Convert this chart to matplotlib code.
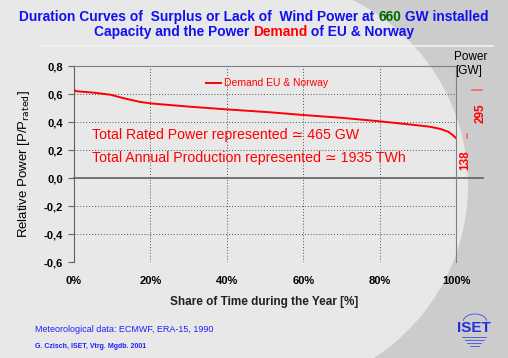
import numpy as np
import matplotlib
matplotlib.use("Agg")
import matplotlib.pyplot as plt
from matplotlib.patches import Polygon

plt.rcParams["font.family"] = ["Liberation Sans", "DejaVu Sans"]

# ---- data ----
share_pct = [0, 0.5, 5, 9.5, 13, 17, 20, 30, 40, 51, 60, 70, 80, 87, 93, 96, 98, 99, 100]
demand_rel = [0.63, 0.62, 0.61, 0.595, 0.57, 0.545, 0.533, 0.51, 0.49, 0.47,
              0.45, 0.43, 0.405, 0.385, 0.367, 0.35, 0.33, 0.31, 0.285]
y_ticks = [-0.6, -0.4, -0.2, 0.0, 0.2, 0.4, 0.6, 0.8]
x_ticks = [0, 20, 40, 60, 80, 100]
power_marks = [0.63, 0.285]
power_labels = ["295", "138"]

W, H = 508, 358
fig = plt.figure(figsize=(W / 100, H / 100), dpi=100)
fig.patch.set_facecolor("#e8e8e8")

# slide background: darker area right of a big arc
cx, cy, r = 262, 185, 206
t = np.linspace(-np.pi / 2 - 0.3, np.pi / 2 + 0.3, 120)
arc_x = cx + r * np.cos(t)
arc_y = cy + r * np.sin(t)
pts = [(x / W, 1 - y / H) for x, y in zip(arc_x, arc_y)]
pts += [(1.2, 1 - arc_y[-1] / H), (1.2, 1 - arc_y[0] / H)]
bg = Polygon(pts, closed=True, transform=fig.transFigure,
             facecolor="#cccccc", edgecolor="none", zorder=-5)
fig.add_artist(bg)
fig.add_artist(plt.Line2D([40 / W, 493 / W], [1 - 46 / H, 1 - 46 / H],
                          transform=fig.transFigure, color="#f2f2f2", lw=1.2, zorder=-4))

# ---- title with coloured words ----
def colored_line(parts, y, size=9.9):
    renderer = fig.canvas.get_renderer()
    texts = []
    for s, c in parts:
        tx = fig.text(0, y, s, color=c, fontsize=size, fontweight="bold",
                      ha="left", va="center")
        texts.append(tx)
    widths = [tx.get_window_extent(renderer).width / W for tx in texts]
    x = 0.5 - sum(widths) / 2
    for tx, w in zip(texts, widths):
        tx.set_x(x)
        x += w

blue = "#1010f0"
colored_line([("Duration Curves of  Surplus or Lack of  Wind Power at ", blue),
              ("660", "#006400"), (" GW installed", blue)], 1 - 17 / H)
colored_line([("Capacity and the Power ", blue), ("Demand", "#ff0000"),
              (" of EU & Norway", blue)], 1 - 32 / H)

# ---- axes ----
ax = fig.add_axes([74 / W, 1 - 262 / H, 382 / W, 196 / H])
ax.patch.set_visible(False)
ax.set_xlim(0, 100)
ax.set_ylim(-0.6, 0.8)

ax.plot(share_pct, demand_rel, color="#ff0000", lw=1.4, zorder=3)

for yv in y_ticks:
    if yv == 0.0:
        ax.plot([0, 107], [0, 0], color="#606060", lw=1.2, clip_on=False, zorder=2)
    elif -0.6 < yv < 0.8:
        ax.axhline(yv, color="#505050", lw=0.7, ls=(0, (1, 2)))
for xv in x_ticks[1:-1]:
    ax.axvline(xv, color="#505050", lw=0.7, ls=(0, (1, 2)))

ax.set_yticks(y_ticks)
ax.set_yticklabels([f"{v:.1f}".replace(".", ",") for v in y_ticks],
                   fontsize=8, fontweight="bold")
ax.set_xticks(x_ticks)
ax.set_xticklabels([f"{v}%" for v in x_ticks], fontsize=8, fontweight="bold")
ax.tick_params(axis="x", length=0, pad=10)
ax.tick_params(axis="y", length=4, direction="out", color="#606060", pad=4)
for side in ["left", "right", "top"]:
    ax.spines[side].set_color("#808080")
ax.spines["left"].set_color("#606060")
ax.spines["bottom"].set_visible(False)

ax.set_ylabel("Relative Power [P/P$_{\\mathrm{rated}}$]", fontsize=9.5, labelpad=8)
fig.text(264 / W, 1 - 302 / H, "Share of Time during the Year [%]",
         fontsize=8.5, fontweight="bold", ha="center", va="center", color="#202020")

# legend
ax.plot([34.5, 38.5], [0.677, 0.677], color="#ff0000", lw=1.4)
ax.text(39.2, 0.677, "Demand EU & Norway", color="#ff0000", fontsize=7.5, va="center")

ax.text(4.7, 0.305, "Total Rated Power represented \u2243 465 GW",
        color="#ff0000", fontsize=10.2, va="center")
ax.text(4.7, 0.14, "Total Annual Production represented \u2243 1935 TWh",
        color="#ff0000", fontsize=10.2, va="center")

# right side power annotations
fig.text(471 / W, 1 - 57 / H, "Power", fontsize=8.5, ha="center", va="center")
fig.text(469 / W, 1 - 71 / H, "[GW]", fontsize=8.5, ha="center", va="center")
ax.plot([104.2, 106.8], [power_marks[0], power_marks[0]], color="#ff6060", lw=1.2, clip_on=False)
ax.plot([102.8, 102.8], [power_marks[1], power_marks[1] + 0.03], color="#ff6060",
        lw=1.2, clip_on=False)
fig.text(481 / W, 1 - 113 / H, power_labels[0], color="#ff0000", fontsize=8.5,
         fontweight="bold", rotation=90, ha="center", va="center")
fig.text(465 / W, 1 - 160 / H, power_labels[1], color="#ff0000", fontsize=8.5,
         fontweight="bold", rotation=90, ha="center", va="center")

# footer
fig.text(35 / W, 1 - 330 / H, "Meteorological data: ECMWF, ERA-15, 1990",
         color="#2020ff", fontsize=6.5, va="center")
fig.text(35 / W, 1 - 347 / H, "G. Czisch, ISET, Vtrg. Mgdb. 2001",
         color="#2020ff", fontsize=5, fontweight="bold", va="center")

# ISET logo
fig.text(474 / W, 1 - 328 / H, "ISET", color="#2030e0", fontsize=11,
         fontweight="bold", ha="center", va="center")
for k, yy in enumerate([337, 340, 343, 346]):
    half = 12 - k * 2.5
    fig.add_artist(plt.Line2D([(474 - half) / W, (474 + half) / W],
                              [1 - yy / H, 1 - yy / H], transform=fig.transFigure,
                              color="#4050e0", lw=0.6))
th = np.linspace(0.2, np.pi - 0.2, 30)
fig.add_artist(plt.Line2D((475 + 12 * np.cos(th)) / W, 1 - (322 - 8 * np.sin(th)) / H,
                          transform=fig.transFigure, color="#4050e0", lw=0.6))

fig.savefig("out.png", dpi=100, facecolor=fig.get_facecolor())
